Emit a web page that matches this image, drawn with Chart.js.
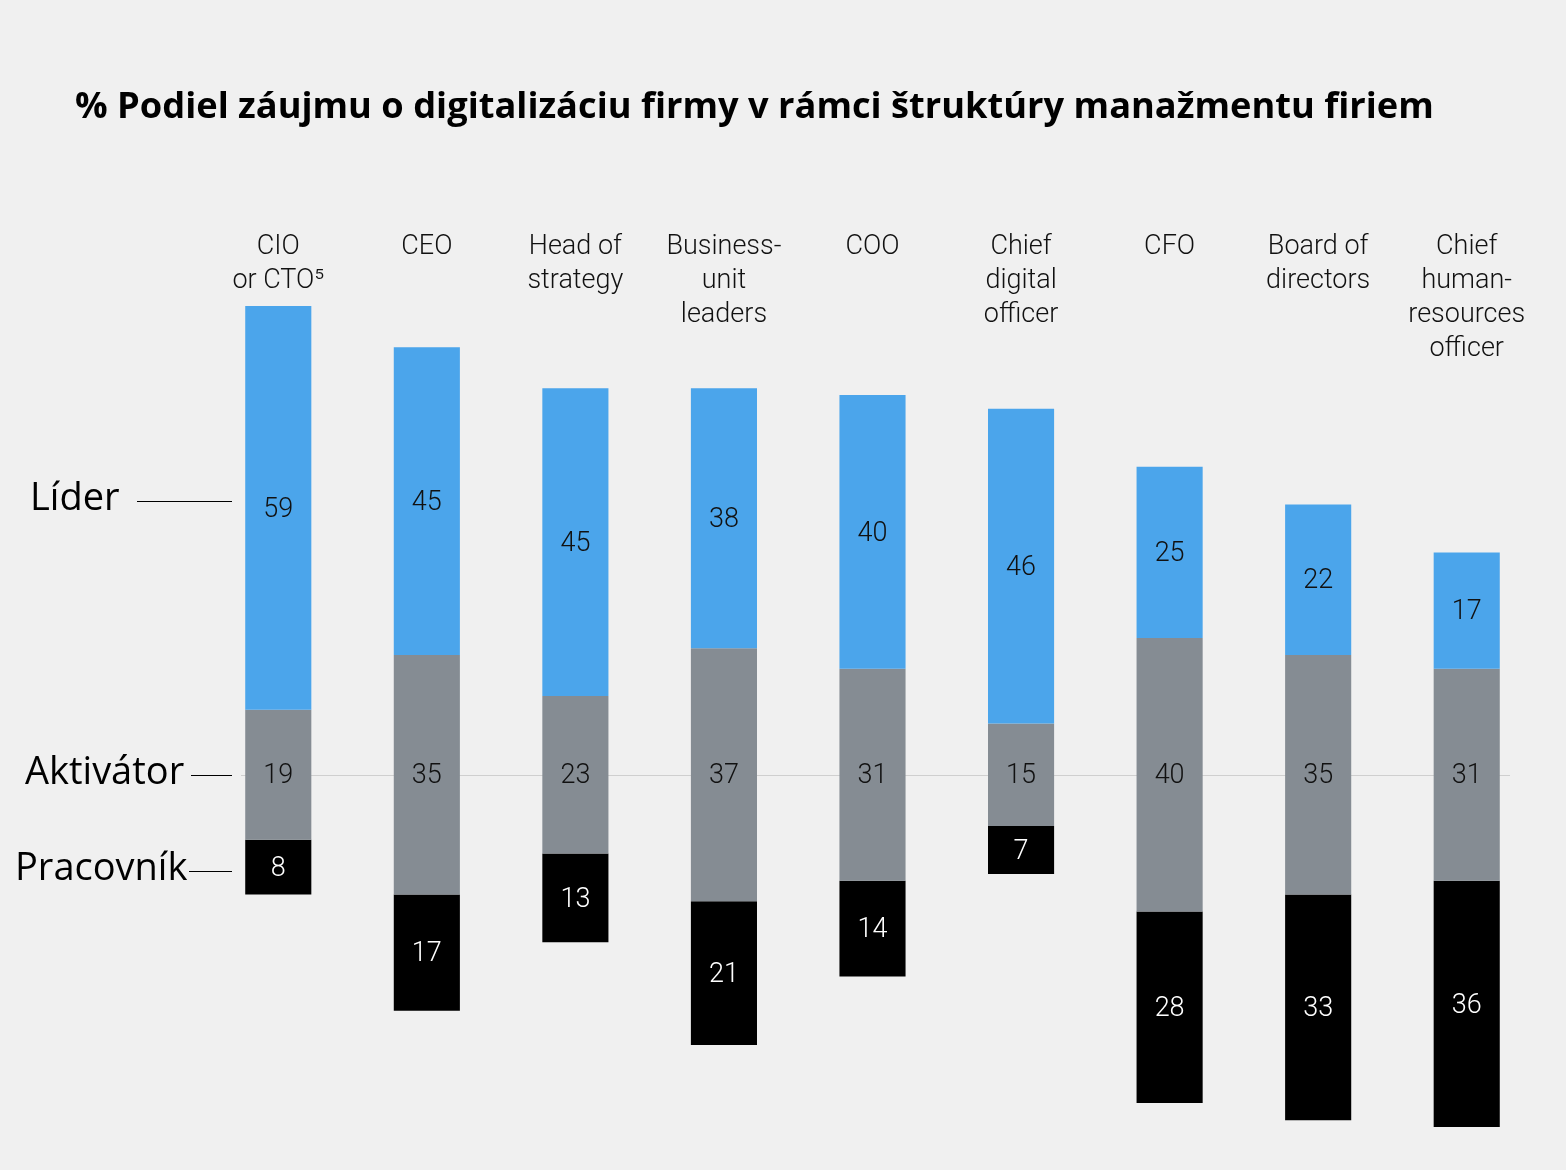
<!DOCTYPE html>
<html lang="sk">
<head>
<meta charset="utf-8">
<title>Podiel záujmu o digitalizáciu</title>
<script src="https://cdn.jsdelivr.net/npm/chart.js@4.4.1/dist/chart.umd.min.js"></script>
<style>
    html, body { margin: 0; padding: 0; background: #f0f0f0; }
    #wrap { position: relative; width: 1566px; height: 1170px; }
    canvas { display: block; }
</style>
</head>
<body>
<div id="wrap"><canvas id="rolesChart" width="1566" height="1170"></canvas></div>
<script>
// --- Data ---
const categories = [
    ['CIO', 'or CTO\u2075'],
    ['CEO'],
    ['Head of', 'strategy'],
    ['Business-', 'unit', 'leaders'],
    ['COO'],
    ['Chief', 'digital', 'officer'],
    ['CFO'],
    ['Board of', 'directors'],
    ['Chief', 'human-', 'resources', 'officer']
];
const lider = [59, 45, 45, 38, 40, 46, 25, 22, 17];
const aktivator = [19, 35, 23, 37, 31, 15, 40, 35, 31];
const pracovnik = [8, 17, 13, 21, 14, 7, 28, 33, 36];

const seriesNames = ['Líder', 'Aktivátor', 'Pracovník'];
const titleText = '% Podiel záujmu o digitalizáciu firmy v rámci štruktúry manažmentu firiem';

// Aktivátor block is centred on zero, Líder sits on top, Pracovník hangs below
const aktivatorRange = aktivator.map(a => [-a / 2, a / 2]);
const liderRange = lider.map((l, i) => [aktivator[i] / 2, aktivator[i] / 2 + l]);
const pracovnikRange = pracovnik.map((p, i) => [-aktivator[i] / 2 - p, -aktivator[i] / 2]);

const BLUE = '#4ba5eb';
const GRAY = '#858c93';
const BLACK = '#000000';
const labelFont = 'Roboto, "Liberation Sans", sans-serif';
const headFont = '"Open Sans", Lato, sans-serif';

// --- Plugins ---
const backgroundPlugin = {
    id: 'bg',
    beforeDraw(chart) {
        const ctx = chart.ctx;
        ctx.save();
        ctx.fillStyle = '#f0f0f0';
        ctx.fillRect(0, 0, chart.width, chart.height);
        ctx.restore();
    },
    beforeDatasetsDraw(chart) {
        // light reference line through the Aktivátor row
        const ctx = chart.ctx;
        const y = chart.scales.y.getPixelForValue(0);
        ctx.save();
        ctx.strokeStyle = '#cfcfcf';
        ctx.lineWidth = 1;
        ctx.beginPath();
        ctx.moveTo(241, Math.round(y) + 0.5);
        ctx.lineTo(1510, Math.round(y) + 0.5);
        ctx.stroke();
        ctx.restore();
    }
};

const textPlugin = {
    id: 'texts',
    afterDatasetsDraw(chart) {
        const ctx = chart.ctx;
        const x = chart.scales.x;
        const y = chart.scales.y;
        ctx.save();

        // title, fitted to the reference width
        let size = 36;
        ctx.font = `700 ${size}px ${headFont}`;
        const w = ctx.measureText(titleText).width;
        size = Math.min(40, size * 1359 / w);
        ctx.font = `700 ${size}px ${headFont}`;
        ctx.fillStyle = '#000';
        ctx.textAlign = 'left';
        ctx.textBaseline = 'middle';
        ctx.fillText(titleText, 75, 108);

        // category labels above the bars
        ctx.font = `300 27px ${labelFont}`;
        ctx.fillStyle = '#111';
        ctx.textAlign = 'center';
        categories.forEach((lines, i) => {
            const cx = x.getPixelForValue(i);
            lines.forEach((line, j) => ctx.fillText(line, cx, 247 + j * 34));
        });

        // values inside the segments
        ctx.font = `300 27px ${labelFont}`;
        const sets = [
            { data: liderRange, vals: lider, color: '#111' },
            { data: aktivatorRange, vals: aktivator, color: '#111' },
            { data: pracovnikRange, vals: pracovnik, color: '#fff' }
        ];
        sets.forEach(s => {
            ctx.fillStyle = s.color;
            s.data.forEach((r, i) => {
                const cy = y.getPixelForValue((r[0] + r[1]) / 2);
                ctx.fillText(String(s.vals[i]), x.getPixelForValue(i), cy + 2);
            });
        });

        // row names on the left with leader lines
        ctx.font = `400 38px ${headFont}`;
        ctx.textAlign = 'left';
        ctx.fillStyle = '#000';
        ctx.strokeStyle = '#000';
        ctx.lineWidth = 1;
        const rows = [
            { name: seriesNames[0], value: 40, tx: 30, lx: 137 },
            { name: seriesNames[1], value: 0, tx: 25, lx: 191 },
            { name: seriesNames[2], value: -14, tx: 15, lx: 189 }
        ];
        rows.forEach(r => {
            const ry = Math.round(y.getPixelForValue(r.value));
            ctx.fillText(r.name, r.tx, ry - 2);
            ctx.beginPath();
            ctx.moveTo(r.lx, ry + 0.5);
            ctx.lineTo(232, ry + 0.5);
            ctx.stroke();
        });
        ctx.restore();
    }
};

// --- Chart ---
document.addEventListener('DOMContentLoaded', function() {
    const ctx = document.getElementById('rolesChart');
    new Chart(ctx.getContext('2d'), {
        type: 'bar',
        data: {
            labels: categories.map(c => c.join(' ')),
            datasets: [
                { label: seriesNames[0], data: liderRange, backgroundColor: BLUE },
                { label: seriesNames[1], data: aktivatorRange, backgroundColor: GRAY },
                { label: seriesNames[2], data: pracovnikRange, backgroundColor: BLACK }
            ]
        },
        options: {
            responsive: false,
            devicePixelRatio: 1,
            animation: false,
            datasets: {
                bar: {
                    grouped: false,
                    borderWidth: 0,
                    barPercentage: 0.445,
                    categoryPercentage: 1
                }
            },
            layout: {
                padding: { left: 204, right: 25, top: 159, bottom: 19 }
            },
            plugins: {
                legend: { display: false },
                tooltip: { enabled: false },
                title: { display: false }
            },
            scales: {
                x: { display: false },
                y: { display: false, min: -55, max: 90 }
            }
        },
        plugins: [backgroundPlugin, textPlugin]
    });
});
</script>
</body>
</html>
